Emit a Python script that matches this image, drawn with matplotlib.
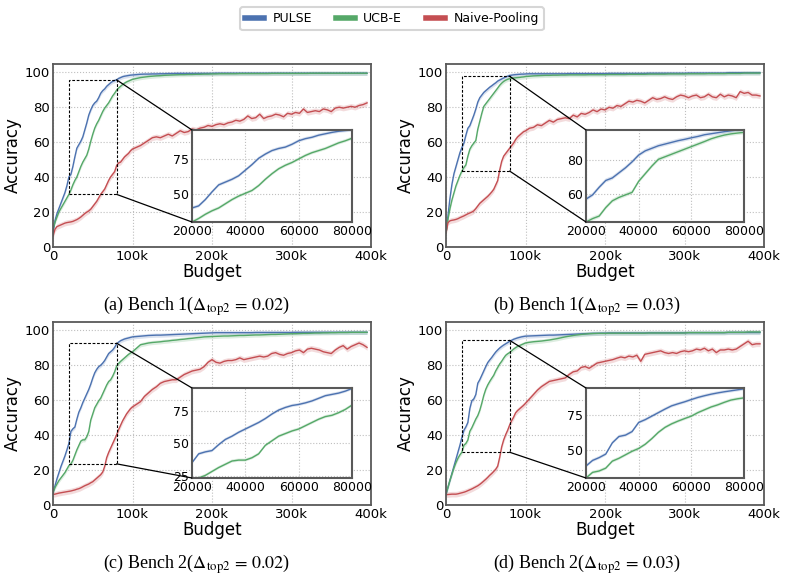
import numpy as np
import matplotlib.pyplot as plt
from matplotlib.patches import Rectangle, ConnectionPatch
from matplotlib.lines import Line2D
from matplotlib.ticker import FuncFormatter

plt.rcParams['font.family'] = ['DejaVu Sans']
plt.rcParams['mathtext.fontset'] = 'stix'

# budget grid: 2.5k steps up to 100k, then 5k steps
budget = list(range(0, 100001, 2500)) + list(range(105000, 395001, 5000))

# ---- Bench 1, delta 0.02 ----
pulse_a = [8, 15, 19, 22, 25, 28, 31, 35, 40, 41.5, 46, 51.5, 56.5, 58.5, 60.5, 63, 67, 71, 75.5, 78.5,
           81, 82.5, 83.5, 85.5, 88, 89.5, 90.5, 92, 93, 94, 94.8, 95.3, 95.7, 96.5, 97, 97.5, 97.8, 98, 98.2, 98.4, 98.5,
           98.7, 98.9, 99.0, 99.0, 99.1, 99.1, 99.2, 99.2, 99.3, 99.3,
           99.4, 99.4, 99.4, 99.4, 99.4, 99.4, 99.4, 99.4, 99.4, 99.4] + [99.5] * 39
ucb_a = [10, 14, 17, 20, 22, 24, 26, 28, 30, 32.5, 35.5, 38, 40, 43, 46, 48.5, 50.5, 52.5, 56, 60.5,
         64.5, 68, 70.5, 72.5, 75, 77.5, 79.5, 81, 82.5, 84.5, 86.5, 88, 89.8, 91, 92, 93, 93.8, 94.5, 95, 95.5, 96,
         96.5, 97, 97.3, 97.6, 97.8, 98, 98.1, 98.3, 98.4, 98.5,
         98.6, 98.7, 98.7, 98.8, 98.8, 98.9, 98.9, 99.0, 99.0, 99.1,
         99.1] + [99.2] * 5 + [99.3] * 8 + [99.4] * 10 + [99.5] * 15
naive_a = [6, 10, 11.5, 12, 12.5, 13, 13.5, 13.8, 14, 14.2, 14.5, 15, 15.5, 16.2, 17, 18, 19, 19.8, 20.5, 21.5,
           23, 24.5, 26, 28, 30, 31.5, 33, 35.5, 38, 40, 41.5, 43, 46.5, 48, 48.5, 50, 51.5, 52.5, 53.5, 55, 56,
           57, 58, 59.5, 61, 62.5, 63, 62.5, 63.5, 64.5, 63.5,
           65, 66.5, 65.5, 66, 67.5, 67, 68, 68.5, 69.5, 69,
           70, 70.5, 70, 71, 71.5, 72.5, 72, 73, 75, 73.5,
           74, 76, 73.5, 74.5, 75, 76, 75.5, 74.5, 76.5, 76,
           77, 76.5, 79, 77, 77.5, 78, 77.5, 79, 78.5, 77.5,
           79.5, 80, 79.5, 80, 80.5, 80, 81, 81.5, 82.5]

# ---- Bench 1, delta 0.03 ----
pulse_b = [8, 18, 28, 36, 42, 46, 50, 54, 57, 59.5, 64, 68, 69.5, 72.5, 75.5, 79, 83, 85.5, 87, 88.5,
           89.5, 90.5, 91.5, 92.3, 93.2, 94, 95, 95.6, 96.2, 96.8, 97.3, 97.8, 98.2, 98.4, 98.6, 98.7, 98.8, 98.9, 99, 99, 99.1] \
    + [99.2] * 10 + [99.3] * 10 + [99.4] * 10 + [99.5] * 10 + [99.6] * 10 + [99.8] * 9
ucb_b = [8, 16, 22, 27, 31, 35, 38, 41, 43.5, 45.5, 47, 52, 56, 58, 59.5, 61, 67.5, 72, 76.5, 80.5,
         82, 83.5, 85, 86.5, 88, 89.5, 91, 92.6, 93.8, 94.8, 95.5, 96, 96.4, 96.6, 96.8, 96.9, 97, 97.1, 97.3, 97.4, 97.6,
         97.8, 98.0, 98.1, 98.2, 98.3, 98.3, 98.4, 98.4, 98.5, 98.5] \
    + [98.6] * 5 + [98.7] * 5 + [98.8] * 5 + [98.9] * 5 + [99.0] * 5 + [99.1] * 5 \
    + [99.2] * 5 + [99.3] * 5 + [99.4] * 4 + [99.6] * 5
naive_b = [8, 14, 15, 15.3, 15.5, 15.8, 16.2, 16.8, 17.3, 17.8, 18.4, 19, 19.5, 20, 20.7, 22, 23.5, 25, 26, 27,
           28, 29, 30.2, 31.5, 33, 35.5, 38, 44, 49, 52, 53.5, 55, 56.5, 58, 59.5, 61.5, 63, 64, 65, 66, 66.5,
           68, 68.5, 70, 69.5, 71, 72.5, 71.5, 73, 73.5, 74,
           73.5, 75.5, 74.5, 76.5, 76, 77, 78.5, 77.5, 79, 78.5,
           80, 79.5, 81, 80.5, 82, 83.5, 83, 84, 83.5, 82.5,
           84, 85.5, 84.5, 85, 86, 85, 84.5, 86, 87, 86.5,
           85.5, 86.5, 87, 85.5, 86, 87.5, 86, 85.5, 87.5, 86,
           87, 86.5, 85.5, 89, 88, 88.5, 87, 87, 86.5]

# ---- Bench 2, delta 0.02 ----
pulse_c = [7, 11, 15, 18.5, 22, 25, 28, 31.5, 35.2, 42, 43.5, 44.5, 49, 53, 55.5, 58.5, 61, 63.5, 66, 69,
           72.5, 75.5, 77.5, 79, 79.8, 81, 82.5, 84.5, 86.5, 87.5, 88.5, 90, 92, 93, 93.8, 94.3, 94.8, 95.1, 95.4, 95.7, 96,
           96.2, 96.4, 96.6, 96.8, 96.9, 97.0, 97.0, 97.1, 97.2, 97.3,
           97.4, 97.5, 97.6, 97.7, 97.8, 97.9, 98.0, 98.1, 98.2, 98.3] + [98.4] * 10 + [98.5] * 10 + [98.6] * 19
ucb_c = [7, 10, 12, 14, 15.5, 17, 18.5, 20.5, 22.5, 23.5, 25.5, 28.5, 31.5, 34, 36.5, 37.2, 37.2, 39, 42, 48.5,
         52, 55.5, 57.5, 59.5, 61, 63.5, 66, 68.5, 70.5, 71.5, 73.5, 76, 79.3, 80.8, 82, 83, 84, 85, 86, 86.8, 87.5,
         89.5, 91.5, 92, 92.5, 92.8, 93, 93.2, 93.5, 93.7, 94,
         94.2, 94.5, 94.7, 95, 95.2, 95.5, 95.7, 96, 96.1, 96.2,
         96.3, 96.4, 96.5, 96.5, 96.6, 96.7, 96.8, 96.8, 96.9, 97.0,
         97.1, 97.1, 97.2, 97.3, 97.4, 97.4, 97.5, 97.6, 97.7, 97.8,
         97.8, 97.9, 98.0, 98.0, 98.1, 98.2, 98.2, 98.3, 98.3, 98.4,
         98.4, 98.5, 98.5, 98.5, 98.6, 98.6, 98.6, 98.6, 98.6]
naive_c = [6, 6.2, 6.5, 6.8, 7, 7.2, 7.4, 7.6, 7.8, 8, 8.3, 8.6, 9, 9.3, 9.8, 10.4, 11, 11.5, 12, 12.7,
           13.3, 14.3, 15.3, 16.3, 17.3, 18.8, 22, 27, 30, 32.5, 35, 37.5, 40, 43, 45.5, 48, 50, 52, 53.5, 55, 56,
           57.5, 59, 62, 64, 66, 67.5, 69.5, 70.5, 71, 71.5,
           71.5, 73, 74.5, 75.5, 76.5, 77, 77.5, 79, 81.5, 83,
           81.5, 81, 82, 82.5, 82.5, 83, 84, 83, 83.5, 84,
           84.5, 85, 84.5, 85, 86.5, 87, 86, 85.5, 86.5, 87,
           88, 88.5, 87, 89, 89.5, 89, 88.5, 87.5, 87, 86.5,
           88.5, 90, 91, 89, 90.5, 91.5, 92.5, 91.5, 90]

# ---- Bench 2, delta 0.03 ----
pulse_d = [6, 10, 14, 18, 22, 26, 30, 34, 38.5, 42.5, 44.5, 47, 55, 59.5, 60.5, 63, 69.5, 71.5, 74, 76.5,
           79, 81.3, 82.8, 84.2, 85.8, 87.3, 88.5, 89.6, 90.5, 91.3, 92, 92.7, 93.4, 94, 94.6, 95, 95.4, 95.7, 96, 96.2, 96.4,
           96.5, 96.6, 96.7, 96.8, 96.9, 97.0, 97.0, 97.1, 97.2, 97.3,
           97.4, 97.5, 97.6, 97.7, 97.8, 97.9, 98.0, 98.0, 98.1, 98.1] + [98.2] * 10 + [98.3] * 10 + [98.4] * 10 + [98.5] * 9
ucb_d = [6, 10, 14, 17.5, 21, 24, 26.5, 28.5, 30, 34, 35, 37, 42, 44, 46.5, 49, 51, 54, 58, 62.5,
         66, 68.5, 70.5, 72.3, 74, 76.5, 78.5, 80.5, 82, 83.8, 85.4, 86.3, 87, 88, 89, 89.8, 90.5, 91, 91.5, 92, 92.5,
         92.9, 93.2, 93.4, 93.6, 93.9, 94.2, 94.6, 95, 95.5, 96,
         96.4, 96.8, 97.1, 97.4, 97.6, 97.8, 97.9, 98.0, 98.0, 98.0] + [98.1] * 10 + [98.2] * 10 + [98.4] * 10 + [98.6] * 5 + [98.8] * 4
naive_d = [5.7, 5.8, 5.9, 6, 6, 6, 6.2, 6.5, 6.8, 7.1, 7.5, 8, 8.5, 9, 9.6, 10.2, 10.8, 11.6, 12.5, 13.5,
           14.5, 15.6, 16.8, 17.8, 19, 20.2, 22, 27, 33, 37, 40, 42.5, 45.5, 48, 50, 52.5, 53.8, 54.8, 55.8, 56.8, 58,
           60.5, 63, 65.5, 67.5, 69, 70.5, 71, 71.5, 72, 72.5,
           74.5, 76, 76.5, 78.5, 79, 78, 79.5, 81, 81.5, 82,
           82.5, 83, 83.8, 84.5, 84, 85, 84.5, 85.5, 82, 86,
           86.5, 87, 87.5, 88, 87, 86.5, 87, 86.5, 87.5, 88,
           87.5, 88, 89, 88.5, 89.5, 88, 89, 87, 88.5, 88.5,
           89, 88.5, 89, 90.5, 92, 93.5, 91.5, 92, 92]

captions = ['(a) Bench 1($\\Delta_{\\mathrm{top2}}\\,=\\,0.02$)', '(b) Bench 1($\\Delta_{\\mathrm{top2}}\\,=\\,0.03$)',
            '(c) Bench 2($\\Delta_{\\mathrm{top2}}\\,=\\,0.02$)', '(d) Bench 2($\\Delta_{\\mathrm{top2}}\\,=\\,0.03$)']
panels = [(pulse_a, ucb_a, naive_a), (pulse_b, ucb_b, naive_b),
          (pulse_c, ucb_c, naive_c), (pulse_d, ucb_d, naive_d)]
main_ylims = [(-0.2, 104.8), (0.8, 104.8), (0.5, 104.5), (-0.2, 104.5)]
zoom_ylims = [(30, 95.7), (43.5, 97.8), (23.5, 92.4), (30, 94)]
inset_yticks = [[50, 75], [60, 80], [25, 50, 75], [50, 75]]

names = ['PULSE', 'UCB-E', 'Naive-Pooling']
colors = ['#4C72B0', '#55A868', '#C44E52']
bands = [1.2, 1.2, 1.6]

W, H = 786, 580
main_boxes = [(53, 64), (446, 64), (53, 322), (446, 322)]   # left, top in px
inset_boxes = [(192, 130, 160, 92), (586, 130, 158, 92), (192, 388, 160, 90), (586, 388, 158, 90)]
cap_pos = [(197, 306), (587, 306), (197, 564), (587, 564)]

fig = plt.figure(figsize=(7.86, 5.8), dpi=100)
x = np.array(budget)
kfmt = FuncFormatter(lambda v, p: '0' if v == 0 else f'{int(v / 1000)}k')


def style_axes(ax, lw):
    for s in ax.spines.values():
        s.set_color('0.35')
        s.set_linewidth(lw)
    ax.grid(True, ls=':', color='0.75', lw=0.8)
    ax.set_axisbelow(True)
    ax.tick_params(length=0, pad=2, colors='black')


def draw(a, ys, cs, bs):
    for y, c, b in zip(ys, cs, bs):
        y = np.array(y)
        a.fill_between(x, y - b, y + b, color=c, alpha=0.2, lw=0)
        a.plot(x, y, color=c, lw=1.0)


for i, series in enumerate(panels):
    l, t = main_boxes[i]
    ax = fig.add_axes([l / W, 1 - (t + 183) / H, 318 / W, 183 / H])
    ix, iy, iw, ih = inset_boxes[i]
    ins = fig.add_axes([ix / W, 1 - (iy + ih) / H, iw / W, ih / H])
    draw(ax, series, colors, bands)
    # the zoomed view only shows PULSE and UCB-E
    draw(ins, series[:2], colors[:2], bands[:2])

    style_axes(ax, 1.3)
    ax.set_xlim(0, 400000)
    ax.set_ylim(*main_ylims[i])
    ax.set_xticks([0, 100000, 200000, 300000, 400000])
    ax.xaxis.set_major_formatter(kfmt)
    ax.set_yticks([0, 20, 40, 60, 80, 100])
    ax.tick_params(labelsize=9.5)
    ax.set_xlabel('Budget', fontsize=12, labelpad=0)
    ax.set_ylabel('Accuracy', fontsize=12, labelpad=2)

    style_axes(ins, 1.5)
    y0, y1 = zoom_ylims[i]
    ins.set_xlim(20000, 80000)
    ins.set_ylim(y0, y1)
    ins.set_xticks([20000, 40000, 60000, 80000])
    ins.set_yticks(inset_yticks[i])
    ins.tick_params(labelsize=9)

    ax.add_patch(Rectangle((20000, y0), 60000, y1 - y0, fill=False, ls=(0, (2.5, 1.5)), lw=0.8,
                           ec='black', zorder=5))
    for ya, yb in [(y1, 1), (y0, 0)]:
        con = ConnectionPatch(xyA=(80000, ya), coordsA=ax.transData, xyB=(0, yb), coordsB=ins.transAxes,
                              color='black', lw=0.9)
        fig.add_artist(con)

    cx, cy = cap_pos[i]
    fig.text(cx / W, 1 - cy / H, captions[i], ha='center', va='center', fontsize=13,
             family=['Liberation Serif', 'DejaVu Serif'])

handles = [Line2D([], [], color=c, lw=4) for c in colors]
leg = fig.legend(handles, names, loc='center', bbox_to_anchor=(392 / W, 1 - 18.5 / H), ncol=3, fontsize=9,
                 frameon=True, fancybox=True, handlelength=1.5, handletextpad=0.7, columnspacing=1.9,
                 borderpad=0.4)
leg.get_frame().set_edgecolor('0.8')
leg.get_frame().set_linewidth(1.5)

fig.savefig('out.png', dpi=100)
